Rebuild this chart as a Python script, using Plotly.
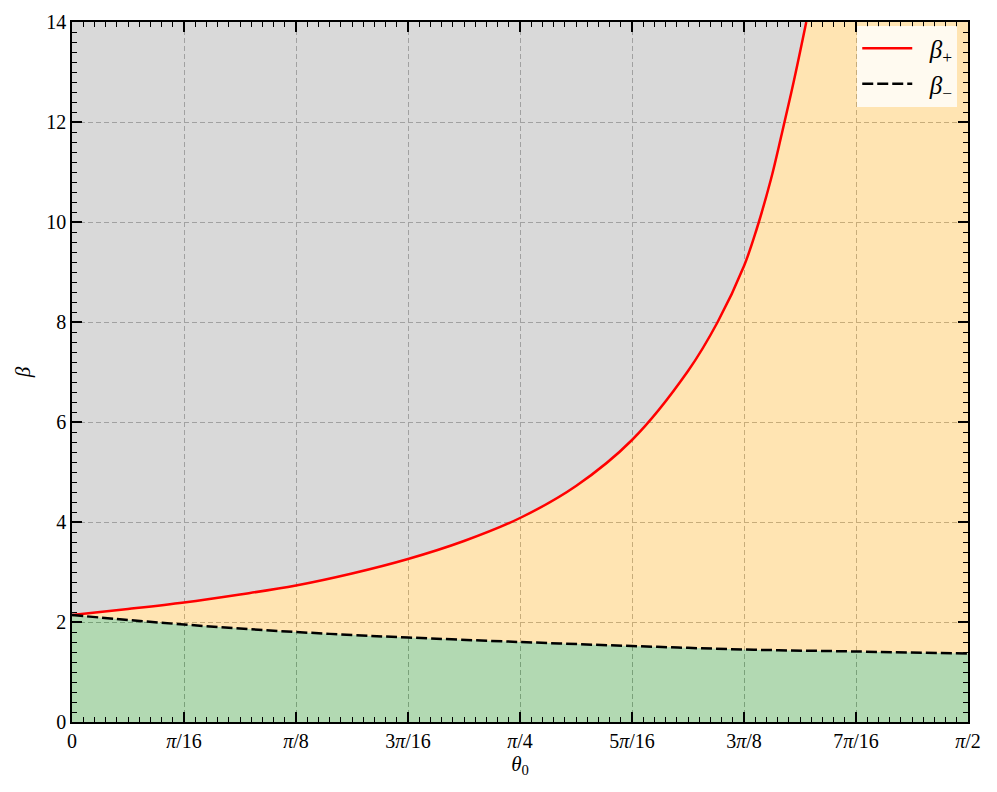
import numpy as np
import plotly.graph_objects as go

# ---- data (theta given as fraction of pi/2) ----
PLUS_FRAC = [0.0, 0.0625, 0.125, 0.1875, 0.25, 0.3125, 0.375, 0.4375, 0.5,
             0.5625, 0.625, 0.6875, 0.7206, 0.75, 0.764, 0.780, 0.792, 0.806, 0.8195]
BETA_PLUS = [2.14, 2.26, 2.39, 2.55, 2.73, 2.97, 3.26, 3.62, 4.08,
             4.72, 5.64, 7.02, 8.0, 9.12, 9.85, 10.85, 11.75, 12.85, 14.0]

MINUS_FRAC = [0.0, 0.0625, 0.125, 0.1875, 0.25, 0.3125, 0.375, 0.5, 0.625, 0.75, 0.875, 1.0]
BETA_MINUS = [2.14, 2.04, 1.95, 1.87, 1.80, 1.74, 1.69, 1.60, 1.52, 1.45, 1.41, 1.37]

TICK_K = [0, 1, 2, 3, 4, 5, 6, 7, 8]  # multiples of pi/16
TICK_TEXT = ["0", "<i>π</i>/16", "<i>π</i>/8", "3<i>π</i>/16", "<i>π</i>/4",
             "5<i>π</i>/16", "3<i>π</i>/8", "7<i>π</i>/16", "<i>π</i>/2"]

YMAX = 14
XMAX = np.pi / 2

th_p = np.array(PLUS_FRAC) * np.pi / 2
th_m = np.array(MINUS_FRAC) * np.pi / 2
bp = np.array(BETA_PLUS)
bm = np.array(BETA_MINUS)

FONT = "Liberation Serif"

fig = go.Figure()

# green region below beta_-
fig.add_trace(go.Scatter(x=th_m, y=bm, mode="lines", line=dict(width=0, shape="spline"),
                         fill="tozeroy", fillcolor="rgba(0,128,0,0.3)",
                         showlegend=False, hoverinfo="skip"))
# orange region between beta_- and beta_+ (boundary continues off the top of the axes)
ux = np.concatenate([th_p, [XMAX]])
uy = np.concatenate([bp, [2 * YMAX]])
fig.add_trace(go.Scatter(x=ux, y=uy, mode="lines", line=dict(width=0, shape="spline"),
                         fill="tonexty", fillcolor="rgba(255,165,0,0.3)",
                         showlegend=False, hoverinfo="skip"))
# gray region above beta_+
fig.add_trace(go.Scatter(x=[0, XMAX], y=[YMAX, YMAX], mode="lines", line=dict(width=0),
                         fill="tonexty", fillcolor="rgba(128,128,128,0.3)",
                         showlegend=False, hoverinfo="skip"))

fig.add_trace(go.Scatter(x=th_p, y=bp, mode="lines", name="\u00a0\u00a0<i>β</i><sub>+</sub>",
                         line=dict(color="red", width=2.5, shape="spline")))
fig.add_trace(go.Scatter(x=th_m, y=bm, mode="lines", name="\u00a0\u00a0<i>β</i><sub>−</sub>",
                         line=dict(color="black", width=2.5, dash="11px,4px", shape="spline")))

axis_common = dict(
    showline=True, linecolor="black", linewidth=1.5, mirror="ticks",
    ticks="inside", ticklen=10, tickwidth=1.5, tickcolor="black",
    showgrid=True, gridcolor="rgb(175,175,175)", gridwidth=1, griddash="5px,3px",
    zeroline=False, automargin=False,
    tickfont=dict(family=FONT, size=20, color="black"),
)

fig.update_xaxes(
    range=[0, XMAX], tickmode="array",
    tickvals=[k * np.pi / 16 for k in TICK_K], ticktext=TICK_TEXT,
    minor=dict(ticks="inside", ticklen=5, tickwidth=1.2, tickcolor="black",
               tickmode="array",
               tickvals=[j * np.pi / 160 for j in range(81)], showgrid=False),
    title=dict(text="<i>θ</i><sub>0</sub>", font=dict(family=FONT, size=21, color="black"),
               standoff=4),
    **axis_common,
)
fig.update_yaxes(
    range=[0, YMAX], tickmode="linear", tick0=0, dtick=2,
    minor=dict(ticks="inside", ticklen=5, tickwidth=1.2, tickcolor="black",
               dtick=0.2, showgrid=False),
    title=dict(text="<i>β</i>", font=dict(family=FONT, size=21, color="black"),
               standoff=10),
    **axis_common,
)

fig.update_layout(
    width=989, height=784,
    margin=dict(l=64, r=29, t=14, b=70),
    paper_bgcolor="white", plot_bgcolor="white",
    font=dict(family=FONT, color="black"),
    legend=dict(x=0.988, y=0.995, xanchor="right", yanchor="top",
                traceorder="normal",
                bgcolor="rgba(255,255,255,0.8)", borderwidth=0,
                font=dict(family=FONT, size=25, color="black"),
                itemwidth=50),
)

fig.write_html("out.html")
